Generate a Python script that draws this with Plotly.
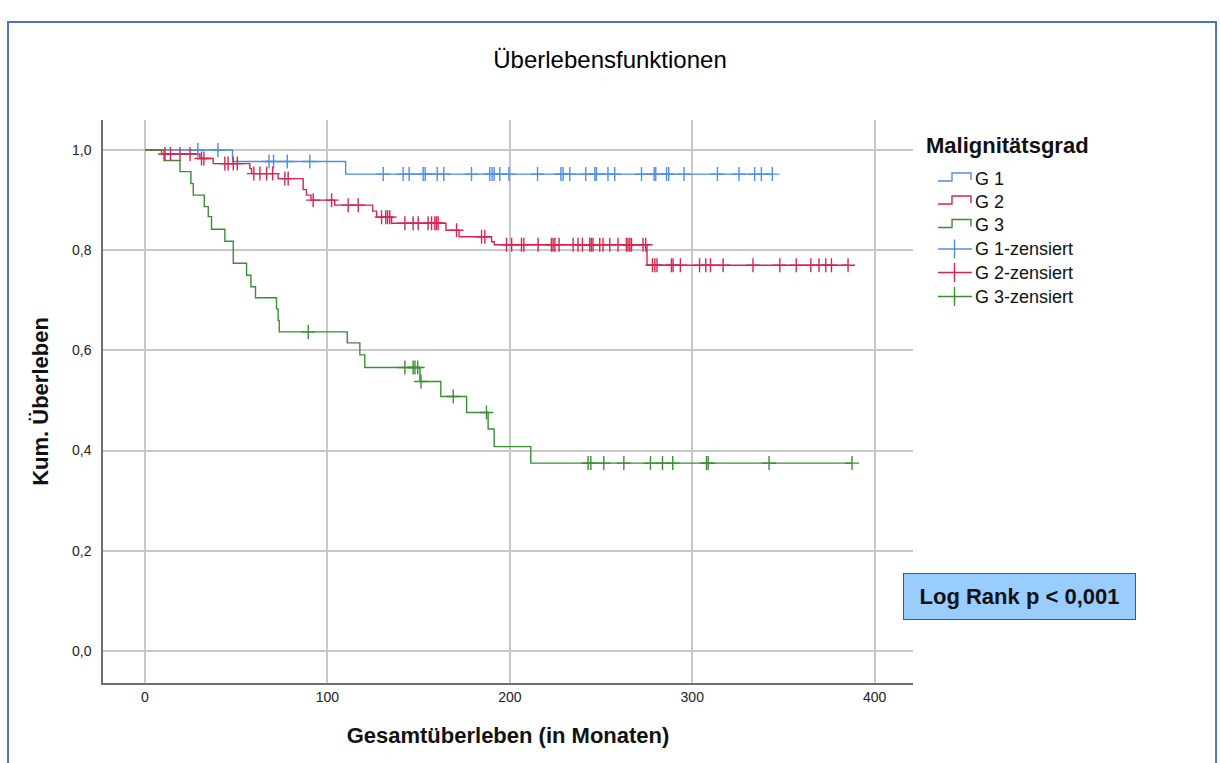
import numpy as np
import plotly.graph_objects as go

# Kaplan-Meier estimates per grade: event times (months) and survival after each event
g1_event_t = [48, 110]
g1_event_s = [0.977, 0.952]
g1_cens_t = [29, 40, 68, 70.5, 78, 90.4, 130.6, 141.5, 144.8, 152.5, 153.6, 160.2,
             163.8, 179, 189, 190.3, 191.4, 194.5, 199.5, 215.2, 228, 229.2, 232.9,
             241.6, 246.6, 247.5, 253.8, 257.5, 272.2, 279.1, 280, 285.9, 287.1,
             295.5, 313.8, 325.6, 334.2, 337.9, 343.9]

g2_event_t = [9.1, 30.1, 37.4, 57.5, 58.5, 73, 86.7, 88.5, 91, 104, 124.8, 127,
              135.2, 165, 172.2, 190, 191.5, 275.2]
g2_event_s = [0.992, 0.983, 0.973, 0.963, 0.953, 0.943, 0.921, 0.910, 0.900, 0.890,
              0.878, 0.866, 0.854, 0.840, 0.827, 0.817, 0.811, 0.770]
g2_cens_t = [11, 14, 19.2, 24.7, 31, 32.3, 43.8, 45.6, 48.4, 50.6, 59.7, 63, 66.7, 70,
             76.7, 78.5, 92.2, 102.3, 111.4, 116.9, 129.7, 132, 133, 134.2, 142.5, 147,
             149.8, 155.2, 157.1, 158.9, 159.8, 160.7, 170.8, 184.5, 186.3, 198.2, 201,
             206.4, 207.7, 215.5, 222.8, 223.7, 224.7, 227, 234.7, 237.4, 239.8, 243.8,
             244.7, 245.6, 249.3, 251.1, 254.8, 259.3, 263.9, 264.8, 265.8, 266.7, 273,
             274.5, 278.2, 279.5, 280.7, 288.6, 289.5, 293.5, 304, 307.4, 310, 316.9,
             333.3, 348, 357, 365, 369.5, 373.2, 376.3, 385.4]

g3_event_t = [10.4, 19.2, 25.2, 26.5, 32.5, 34.7, 36.5, 43.8, 48.4, 55.7, 58.1, 60.6,
              72.1, 73.0, 73.6, 110.9, 117.8, 120.5, 150.7, 162.2, 176.3, 188.1, 191.4,
              211.5]
g3_event_s = [0.979, 0.957, 0.933, 0.910, 0.887, 0.867, 0.842, 0.818, 0.774, 0.750,
              0.727, 0.705, 0.683, 0.660, 0.637, 0.615, 0.591, 0.566, 0.538, 0.508,
              0.476, 0.443, 0.408, 0.375]
g3_cens_t = [89.5, 142.5, 147, 148, 149.5, 151.3, 169, 187.2, 242.9, 244.4, 251.5,
             262.5, 277.1, 283.7, 289.3, 307.8, 308.7, 342.1, 387.6]

group_names = ["G 1", "G 2", "G 3"]
group_colors = ["#4f8fe0", "#d8254e", "#3a8f35"]

x_ticks = [0, 100, 200, 300, 400]
y_ticks = [0.0, 0.2, 0.4, 0.6, 0.8, 1.0]

W, H = 1220, 763
ML, MR, MT, MB = 103, 307, 120, 80
PW, PH = W - ML - MR, H - MT - MB
FONT = "Liberation Sans, Arial, sans-serif"


def px_x(p):
    return (p - ML) / PW


def px_y(p):
    return (H - MB - p) / PH


def surv_at(t, ev_t, ev_s):
    idx = np.searchsorted(np.asarray(ev_t), t, side="right")
    levels = np.concatenate([[1.0], np.asarray(ev_s)])
    return levels[idx]


fig = go.Figure()
groups = [(g1_event_t, g1_event_s, g1_cens_t),
          (g2_event_t, g2_event_s, g2_cens_t),
          (g3_event_t, g3_event_s, g3_cens_t)]

for (ev_t, ev_s, c_t), name, col in zip(groups, group_names, group_colors):
    t_end = max(max(c_t), max(ev_t))
    xs = [0] + list(ev_t) + [t_end]
    ys = [1.0] + list(ev_s) + [ev_s[-1]]
    fig.add_trace(go.Scatter(x=xs, y=ys, mode="lines", line=dict(color=col, width=1.4, shape="hv"),
                             name=name, showlegend=False, hoverinfo="skip"))

for (ev_t, ev_s, c_t), name, col in zip(groups, group_names, group_colors):
    fig.add_trace(go.Scatter(x=c_t, y=surv_at(c_t, ev_t, ev_s), mode="markers",
                             marker=dict(symbol="cross-thin", size=10, line=dict(color=col, width=1.4)),
                             name=name + "-zensiert", showlegend=False, hoverinfo="skip"))

shapes = []
annotations = []

# outer frame
shapes.append(dict(type="rect", xref="paper", yref="paper",
                   x0=px_x(8), x1=px_x(1216), y0=px_y(775), y1=px_y(22),
                   line=dict(color="#4a74c4", width=2), fillcolor="rgba(0,0,0,0)", layer="below"))

# legend block
annotations.append(dict(text="<b>Malignitätsgrad</b>", xref="paper", yref="paper",
                        x=px_x(924), y=px_y(145), xanchor="left", yanchor="middle",
                        showarrow=False, font=dict(family=FONT, size=22, color="#111")))
row_y = [178.5, 201.5, 225, 249, 272.5, 296.5]
for i, (name, col) in enumerate(zip(group_names, group_colors)):
    cy = row_y[i]
    path = "M {a},{b} L {c},{b} L {c},{d} L {e},{d} L {e},{f}".format(
        a=px_x(938), b=px_y(cy + 2.5), c=px_x(952), d=px_y(cy - 5.5), e=px_x(971), f=px_y(cy + 1.5))
    shapes.append(dict(type="path", xref="paper", yref="paper", path=path,
                       line=dict(color=col, width=1.4)))
    annotations.append(dict(text=name, xref="paper", yref="paper", x=px_x(973), y=px_y(cy),
                            xanchor="left", yanchor="middle", showarrow=False,
                            font=dict(family=FONT, size=18, color="#111")))
for i, (name, col) in enumerate(zip(group_names, group_colors)):
    cy = row_y[3 + i]
    shapes.append(dict(type="line", xref="paper", yref="paper", x0=px_x(938), x1=px_x(972),
                       y0=px_y(cy), y1=px_y(cy), line=dict(color=col, width=1.4)))
    shapes.append(dict(type="line", xref="paper", yref="paper", x0=px_x(954.5), x1=px_x(954.5),
                       y0=px_y(cy - 9.5), y1=px_y(cy + 9.5), line=dict(color=col, width=1.4)))
    annotations.append(dict(text=name + "-zensiert", xref="paper", yref="paper", x=px_x(973),
                            y=px_y(cy), xanchor="left", yanchor="middle", showarrow=False,
                            font=dict(family=FONT, size=18, color="#111")))

# test result box
annotations.append(dict(text="<b>Log Rank p &lt; 0,001</b>", xref="paper", yref="paper",
                        x=px_x(1019.2), y=px_y(596.4), xanchor="center", yanchor="middle",
                        showarrow=False, width=231, height=45, borderpad=0,
                        bgcolor="#99ccff", bordercolor="#555555", borderwidth=1,
                        font=dict(family=FONT, size=22, color="#111")))

fig.update_layout(
    width=W, height=H,
    margin=dict(l=ML, r=MR, t=MT, b=MB, pad=0),
    paper_bgcolor="white", plot_bgcolor="white",
    separators=",.",
    title=dict(text="Überlebensfunktionen", x=0.5, xanchor="center", y=1 - 60 / H,
               yanchor="middle", yref="container", font=dict(family=FONT, size=24, color="#000")),
    shapes=shapes, annotations=annotations,
    showlegend=False,
)
fig.update_xaxes(range=[-23, 421], tickvals=x_ticks, tickformat="d", showgrid=True,
                 gridcolor="#c8c8c8", gridwidth=1.6, zeroline=False, showline=True,
                 linecolor="#6e6e6e", linewidth=1.5, ticks="", ticklabelstandoff=0,
                 tickfont=dict(family=FONT, size=14, color="#222"),
                 title=dict(text="<b>Gesamtüberleben (in Monaten)</b>", standoff=24,
                            font=dict(family=FONT, size=22, color="#111")))
fig.update_yaxes(range=[-0.064, 1.06], tickvals=y_ticks, tickformat=".1f", showgrid=True,
                 gridcolor="#c8c8c8", gridwidth=1.6, zeroline=False, showline=True,
                 linecolor="#6e6e6e", linewidth=1.5, ticks="", ticklabelstandoff=7,
                 tickfont=dict(family=FONT, size=14, color="#222"),
                 title=dict(text="<b>Kum. Überleben</b>", standoff=17,
                            font=dict(family=FONT, size=22, color="#111")))

fig.write_html("out.html")
